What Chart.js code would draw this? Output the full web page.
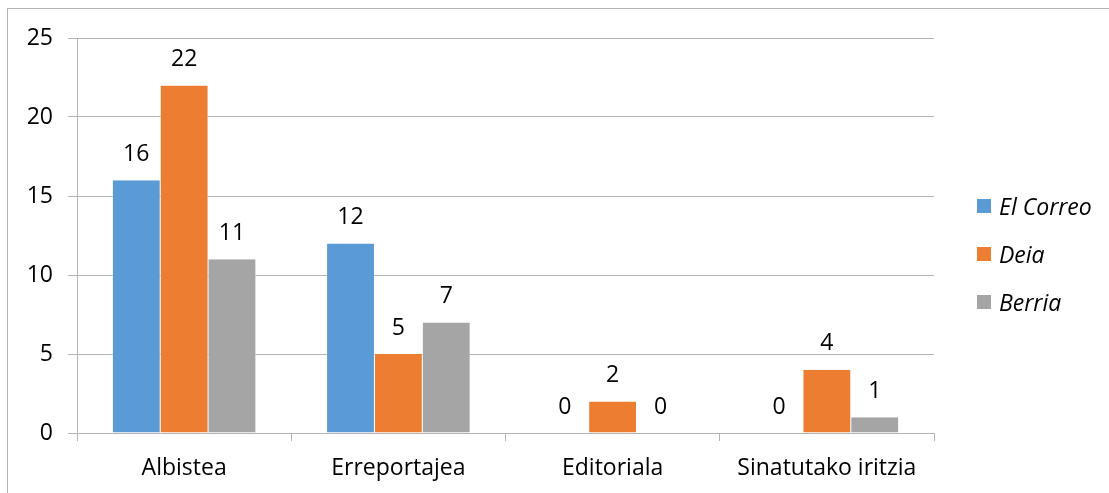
<!DOCTYPE html>
<html><head><meta charset="utf-8">
<script src="https://cdn.jsdelivr.net/npm/chart.js@4/dist/chart.umd.min.js"></script>
<style>
html,body{margin:0;padding:0;background:#fff;overflow:hidden;}
#wrap{position:relative;width:1109px;height:493px;}
#frame{position:absolute;left:7px;top:8px;width:1102px;height:485px;border-left:1px solid #b4b4b4;border-top:1px solid #b4b4b4;box-sizing:border-box;}
canvas{position:absolute;left:0;top:0;}
#legend{position:absolute;left:977px;top:0;font-family:"Open Sans",sans-serif;font-style:italic;font-size:23px;color:#000;}
.item{position:absolute;left:0;white-space:nowrap;display:flex;align-items:center;height:26px;}
.sw{width:14px;height:14px;margin-right:8px;}
</style></head>
<body><div id="wrap"><div id="frame"></div><canvas id="c" width="1109" height="493"></canvas><div id="legend"></div></div>
<script>
const categories = ["Albistea", "Erreportajea", "Editoriala", "Sinatutako iritzia"];
const seriesNames = ["El Correo", "Deia", "Berria"];
const elCorreo = [16, 12, 0, 0];
const deia = [22, 5, 2, 4];
const berria = [11, 7, 0, 1];
const colors = ["#5b9bd5", "#ed7d31", "#a5a5a5"];
const yTicks = [0, 5, 10, 15, 20, 25];

const FONT = "'Open Sans', sans-serif";
const values = [elCorreo, deia, berria];

const legend = document.getElementById('legend');
seriesNames.forEach((n, i) => {
  const d = document.createElement('div');
  d.className = 'item';
  d.style.top = (193 + i * 48) + 'px';
  d.innerHTML = '<span class="sw" style="background:' + colors[i] + '"></span><span>' + n + '</span>';
  legend.appendChild(d);
});

const labelPlugin = {
  id: 'vals',
  afterDatasetsDraw(chart) {
    const ctx = chart.ctx;
    ctx.save();
    ctx.font = '23px ' + FONT;
    ctx.fillStyle = '#000';
    ctx.textAlign = 'center';
    ctx.textBaseline = 'middle';
    chart.data.datasets.forEach((ds, di) => {
      chart.getDatasetMeta(di).data.forEach((bar, i) => {
        ctx.fillText(String(ds.data[i]), bar.x, bar.y - 26);
      });
    });
    ctx.restore();
  }
};

new Chart(document.getElementById('c'), {
  type: 'bar',
  data: {
    labels: categories,
    datasets: seriesNames.map((n, i) => ({
      label: n, data: values[i], backgroundColor: colors[i],
      borderColor: '#ffffff', borderWidth: {left: 0.5, right: 0.5, top: 0, bottom: 0},
      categoryPercentage: 0.67, barPercentage: 1.0
    }))
  },
  options: {
    responsive: false, animation: false,
    layout: {padding: {left: 0, right: 175, top: 38, bottom: 0}},
    plugins: {legend: {display: false}, tooltip: {enabled: false}},
    scales: {
      x: {
        grid: {display: true, drawOnChartArea: false, drawTicks: true, tickLength: 8, color: '#b4b4b4', offset: true},
        border: {color: '#b4b4b4'},
        ticks: {font: {family: FONT, size: 23}, color: '#000', padding: 14},
        afterFit(s) { s.height = 60; }
      },
      y: {
        min: 0, max: 25,
        afterBuildTicks(s) { s.ticks = yTicks.map(v => ({value: v})); },
        grid: {color: '#b4b4b4', tickLength: 9},
        border: {color: '#b4b4b4'},
        ticks: {font: {family: FONT, size: 23}, color: '#000', padding: 15},
        afterFit(s) { s.width = 77; }
      }
    }
  },
  plugins: [labelPlugin]
});
</script>
</body></html>
